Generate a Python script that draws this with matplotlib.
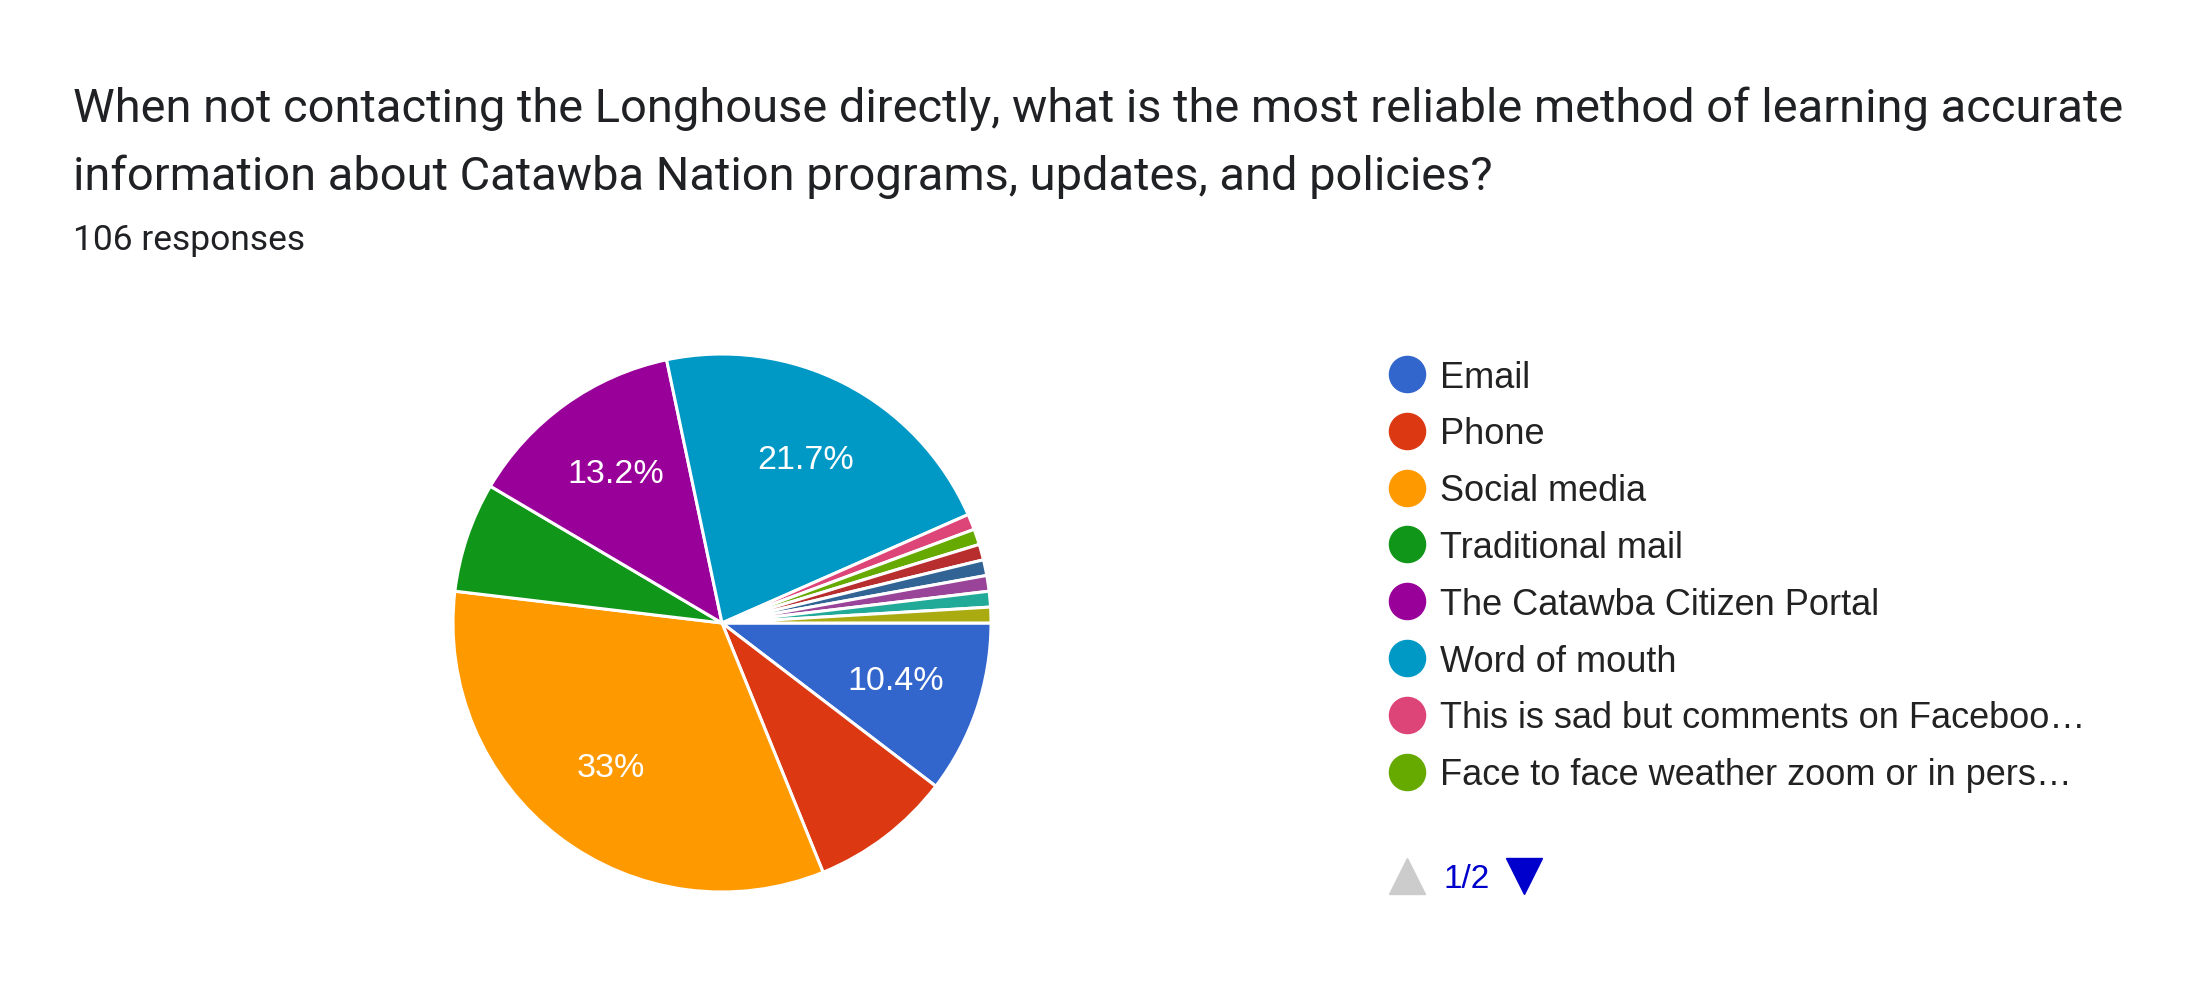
import matplotlib.pyplot as plt
from matplotlib.lines import Line2D

plt.rcParams['font.family'] = ['Roboto', 'DejaVu Sans']
ARIAL = ['Liberation Sans', 'DejaVu Sans']

# Google Forms pie: 106 responses
title_lines = [
    "When not contacting the Longhouse directly, what is the most reliable method of learning accurate",
    "information about Catawba Nation programs, updates, and policies?",
]
n_responses = 106

answers = [
    "Email",
    "Phone",
    "Social media",
    "Traditional mail",
    "The Catawba Citizen Portal",
    "Word of mouth",
    "This is sad but comments on Faceboo…",
    "Face to face weather zoom or in pers…",
    "Other 1",
    "Other 2",
    "Other 3",
    "Other 4",
    "Other 5",
]
counts = [11, 9, 35, 7, 14, 23, 1, 1, 1, 1, 1, 1, 1]
colors = ['#3366cc', '#dc3912', '#ff9900', '#109618', '#990099', '#0099c6',
          '#dd4477', '#66aa00', '#b82e2e', '#316395', '#994499', '#22aa99', '#aaaa11']
legend_page_size = 8
page_text = "1/2"


def pct_label(p):
    # only slices of 10% or more get a label
    if p < 10:
        return ''
    s = f"{p:.1f}"
    if s.endswith('.0'):
        s = s[:-2]
    return s + '%'


W, H = 2196, 996
fig = plt.figure(figsize=(W / 100, H / 100), dpi=100)


def fx(px):
    return px / W


def fy(py):
    return 1 - py / H


# pie: centre (722, 623) px, radius 269 px
ax = fig.add_axes([fx(722 - 269), fy(623 + 269), 538 / W, 538 / H])
wedges, texts, autotexts = ax.pie(
    counts, colors=colors, startangle=0, counterclock=False,
    autopct=pct_label, pctdistance=0.68,
    wedgeprops=dict(edgecolor='white', linewidth=2.2),
    textprops=dict(color='white', fontsize=24.5, family=ARIAL))
ax.set_xlim(-1, 1)
ax.set_ylim(-1, 1)
ax.set_aspect('equal')

# title and response count
for line, base in zip(title_lines, [122, 190]):
    fig.text(fx(73), fy(base), line, fontsize=33.8, color='#202124',
             ha='left', va='baseline')
fig.text(fx(73), fy(250), f"{n_responses} responses", fontsize=25.5, color='#202124',
         ha='left', va='baseline')

# legend, first page only
for i in range(legend_page_size):
    row_y = 374 + i * 56.8
    fig.add_artist(Line2D([fx(1407)], [fy(row_y)], transform=fig.transFigure,
                          marker='o', markersize=26, linestyle='none',
                          markerfacecolor=colors[i], markeredgecolor=colors[i]))
    fig.text(fx(1440), fy(row_y + 13.5), answers[i], fontsize=26, family=ARIAL,
             color='#222222', ha='left', va='baseline')

# pager below the legend
fig.add_artist(Line2D([fx(1407)], [fy(876)], transform=fig.transFigure,
                      marker='^', markersize=26, linestyle='none',
                      markerfacecolor='#cccccc', markeredgecolor='#cccccc'))
fig.text(fx(1443), fy(888), page_text, fontsize=24, family=ARIAL, color='#0000cc',
         ha='left', va='baseline')
fig.add_artist(Line2D([fx(1524)], [fy(876)], transform=fig.transFigure,
                      marker='v', markersize=26, linestyle='none',
                      markerfacecolor='#0000cc', markeredgecolor='#0000cc'))

fig.savefig('out.png', dpi=100, facecolor='white')
